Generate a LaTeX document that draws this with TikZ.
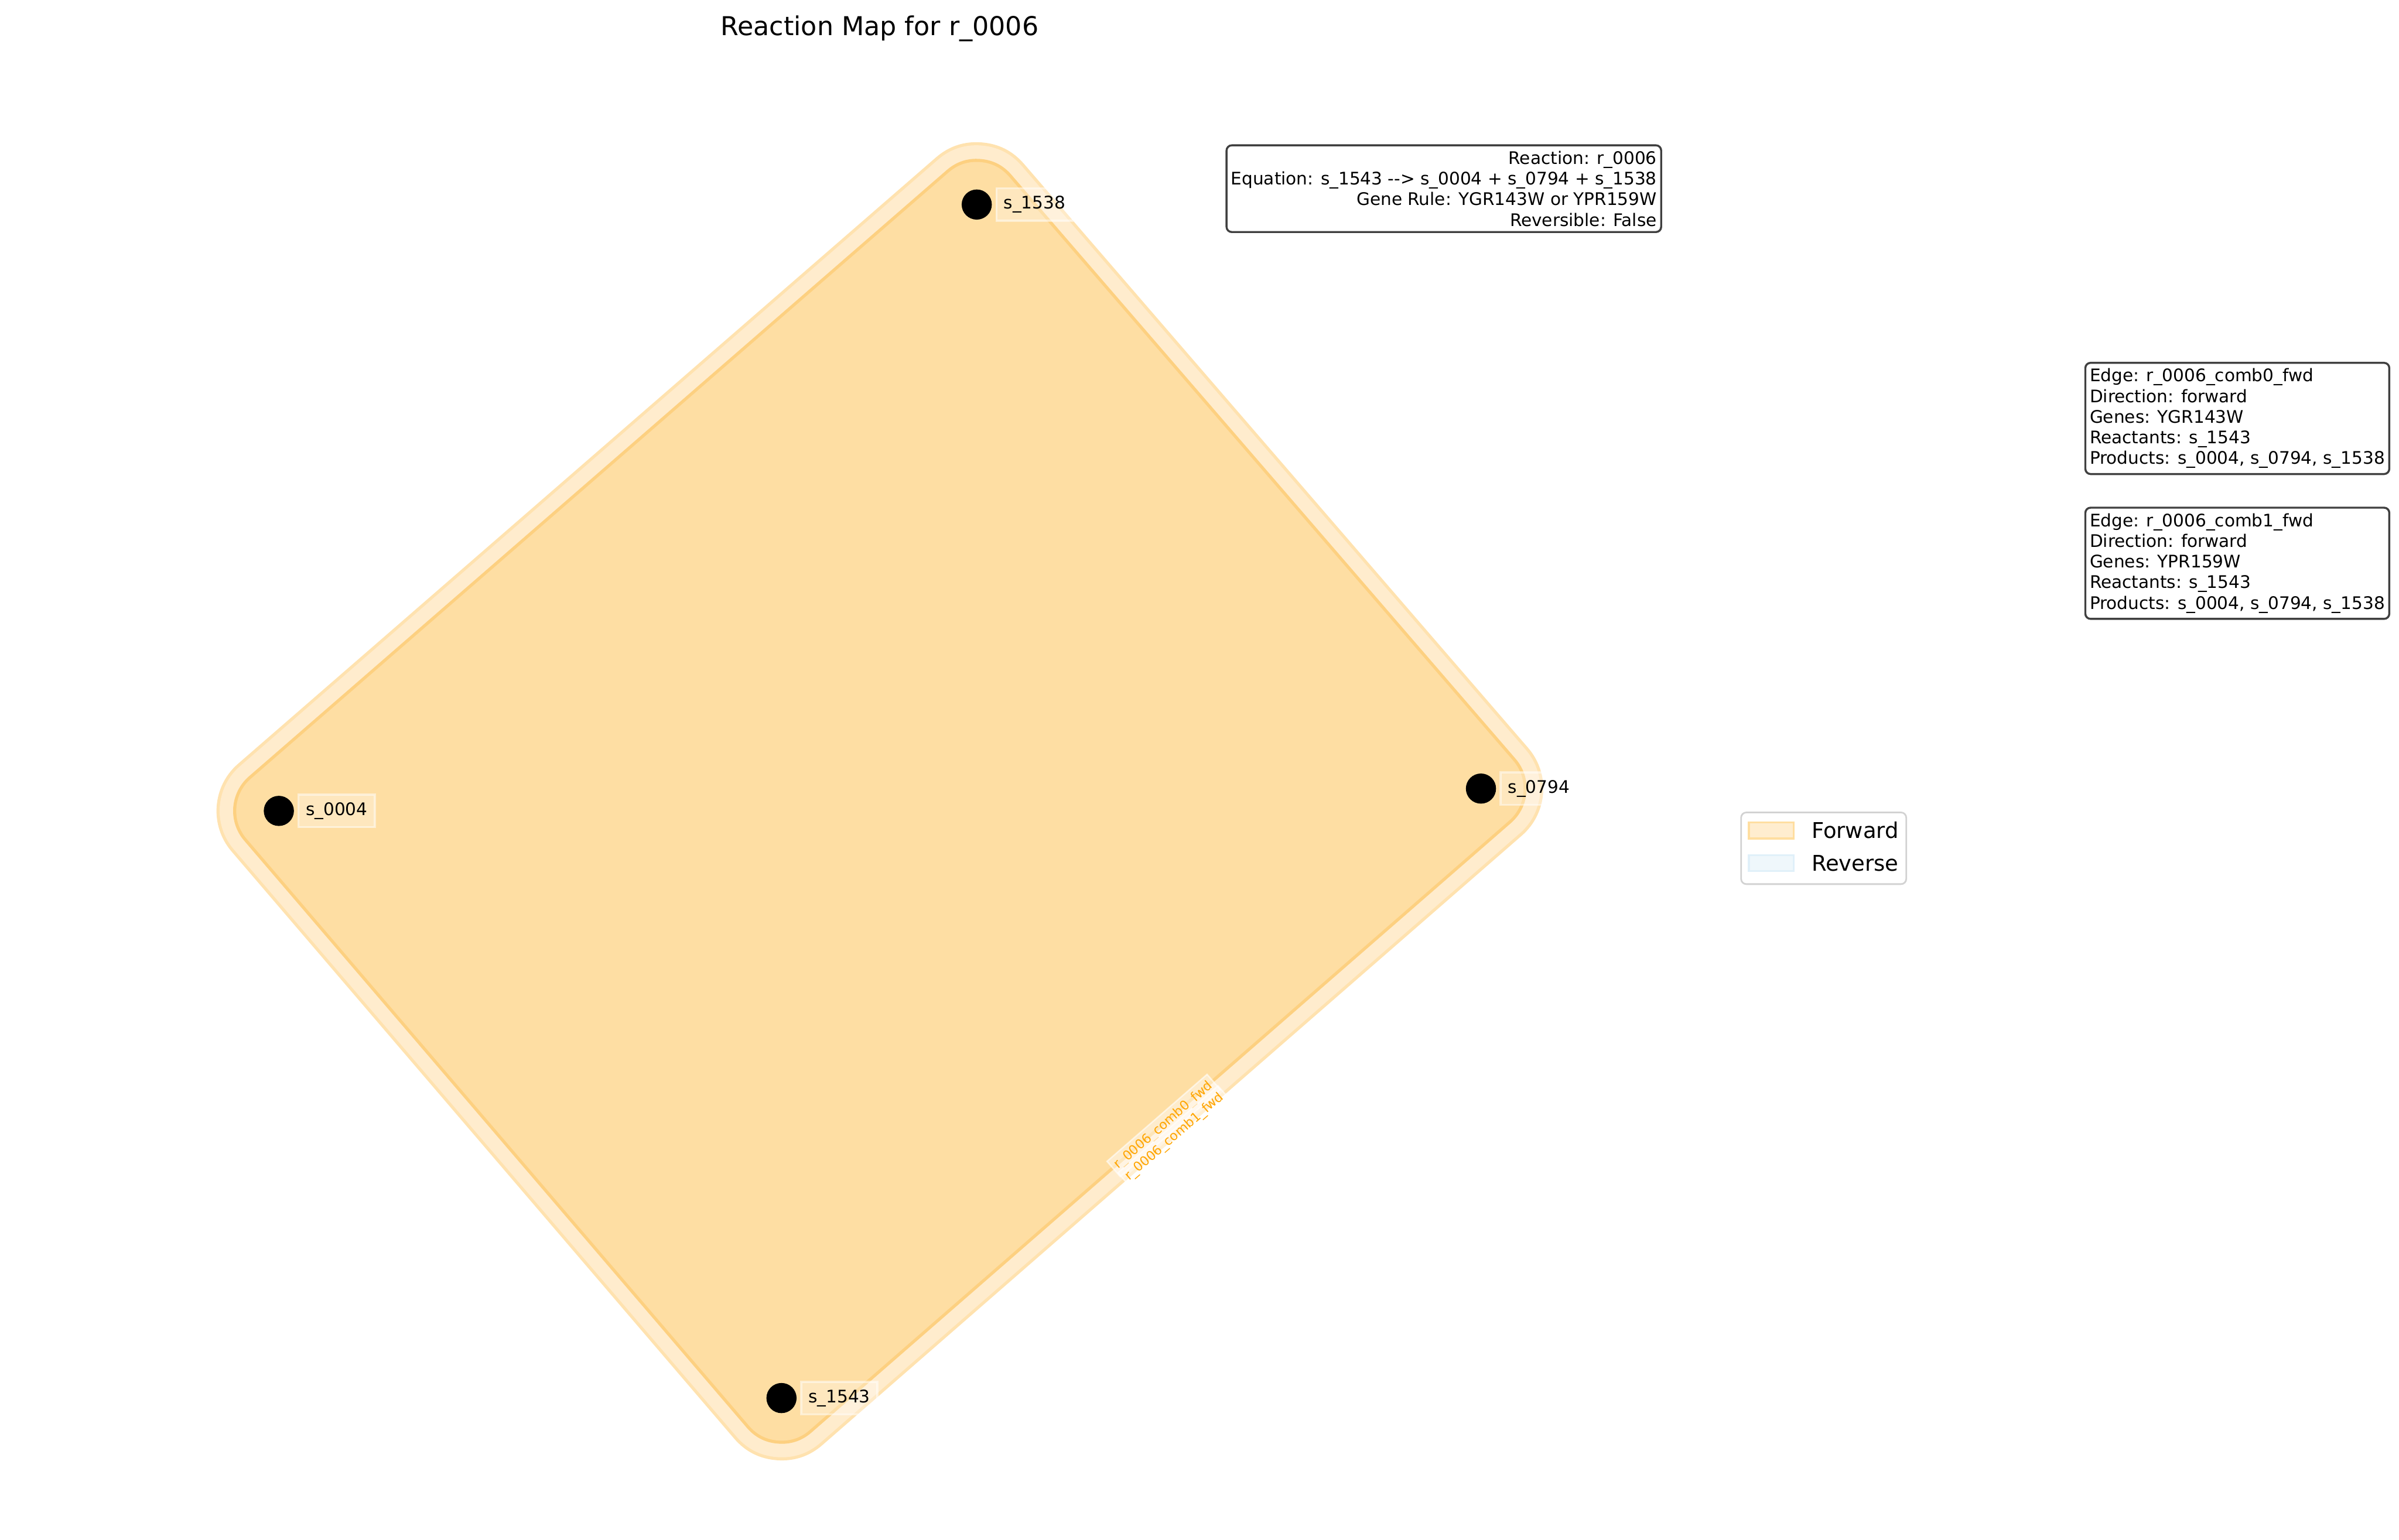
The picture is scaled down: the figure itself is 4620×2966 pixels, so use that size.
\documentclass[tikz,border=0pt]{standalone}
\usepackage{fontspec}
\setmainfont{DejaVu Sans}
\definecolor{outeredge}{RGB}{255,226,175}
\definecolor{band}{RGB}{255,236,205}
\definecolor{inneredge}{RGB}{253,208,128}
\definecolor{innerfill}{RGB}{254,222,163}
\definecolor{legborder}{RGB}{210,210,210}
\definecolor{fwdfill}{RGB}{255,237,207}
\definecolor{fwdedge}{RGB}{255,222,160}
\definecolor{revfill}{RGB}{239,247,251}
\definecolor{revedge}{RGB}{224,240,249}
\definecolor{boxedge}{RGB}{64,64,64}
\definecolor{laborange}{RGB}{255,165,0}
\pgfdeclarelayer{bg}
\pgfsetlayers{bg,main}
\tikzset{
  met/.style={circle, fill=black, minimum size=0.58cm, inner sep=0pt},
  lab/.style={anchor=west, fill=white, fill opacity=0.3, draw=white, draw opacity=0.5,
    line width=1.1pt, text opacity=1, inner xsep=0.14cm, inner ysep=0.15cm,
    font=\fontsize{9.48pt}{11.2pt}\selectfont},
  infobox/.style={draw=boxedge, line width=1.1pt, rounded corners=0.1cm, fill=white,
    inner xsep=0.085cm, inner ysep=0.11cm, font=\fontsize{9.48pt}{11.3pt}\selectfont},
  elab/.style={rotate=41, text=laborange, fill=white, fill opacity=0.45, draw=white,
    draw opacity=0.6, line width=0.8pt, text opacity=1, inner sep=0.07cm,
    font=\fontsize{7.11pt}{8.5pt}\selectfont},
  hull/.style={line join=round, line cap=round}
}
\begin{document}
\begin{tikzpicture}[x=0.01cm, y=-0.01cm]
\useasboundingbox (0,0) rectangle (4620,2966);
% metabolite nodes
\node[met] (s1538) at (1881,394) {};
\node[met] (s0794) at (2852,1519) {};
\node[met] (s1543) at (1505,2693) {};
\node[met] (s0004) at (537,1562) {};
% hull patches
\begin{pgfonlayer}{bg}
\draw[hull, draw=outeredge, fill=outeredge, line width=2.40cm]
  (s1538.center) -- (s0794.center) -- (s1543.center) -- (s0004.center) -- cycle;
\draw[hull, draw=band, fill=band, line width=2.28cm]
  (s1538.center) -- (s0794.center) -- (s1543.center) -- (s0004.center) -- cycle;
\draw[hull, draw=inneredge, fill=inneredge, line width=1.76cm]
  (s1538.center) -- (s0794.center) -- (s1543.center) -- (s0004.center) -- cycle;
\draw[hull, draw=innerfill, fill=innerfill, line width=1.64cm]
  (s1538.center) -- (s0794.center) -- (s1543.center) -- (s0004.center) -- cycle;
\end{pgfonlayer}
% node labels
\node[lab] (l1538) at ([xshift=0.36cm]s1538.center) {s\_1538};
\node[lab] (l0794) at ([xshift=0.36cm]s0794.center) {s\_0794};
\node[lab] (l1543) at ([xshift=0.36cm]s1543.center) {s\_1543};
\node[lab] (l0004) at ([xshift=0.36cm]s0004.center) {s\_0004};
% edge labels
\node[elab] (e0) at (2241,2168) {r\_0006\_comb0\_fwd};
\node[elab] (e1) at (2262,2190) {r\_0006\_comb1\_fwd};
% title
\node[anchor=base, font=\fontsize{14.23pt}{17pt}\selectfont, inner sep=0pt] (title) at (1694,68) {Reaction Map for r\_0006};
% info box
\node[infobox, anchor=north east, align=right] (info) at (3201,278)
  {Reaction: r\_0006\\Equation: s\_1543 -{}-{}> s\_0004 + s\_0794 + s\_1538\\Gene Rule: YGR143W or YPR159W\\Reversible: False};
% edge boxes
\node[infobox, anchor=north west, align=left] (edge0) at (4014,697)
  {Edge: r\_0006\_comb0\_fwd\\Direction: forward\\Genes: YGR143W\\Reactants: s\_1543\\Products: s\_0004, s\_0794, s\_1538};
\node[infobox, anchor=north west, align=left] (edge1) at (4014,976)
  {Edge: r\_0006\_comb1\_fwd\\Direction: forward\\Genes: YPR159W\\Reactants: s\_1543\\Products: s\_0004, s\_0794, s\_1538};
% legend
\draw[draw=legborder, line width=0.9pt, fill=white, rounded corners=0.1cm] (3353,1565) rectangle (3671,1703);
\draw[draw=fwdedge, fill=fwdfill, line width=1.1pt] (3368,1584) rectangle (3454,1615);
\draw[draw=revedge, fill=revfill, line width=1.1pt] (3368,1647) rectangle (3454,1678);
\node[anchor=base west, inner sep=0pt, font=\fontsize{11.86pt}{14pt}\selectfont] (legf) at (3488,1615) {Forward};
\node[anchor=base west, inner sep=0pt, font=\fontsize{11.86pt}{14pt}\selectfont] (legr) at (3488,1678) {Reverse};
\end{tikzpicture}
\end{document}
